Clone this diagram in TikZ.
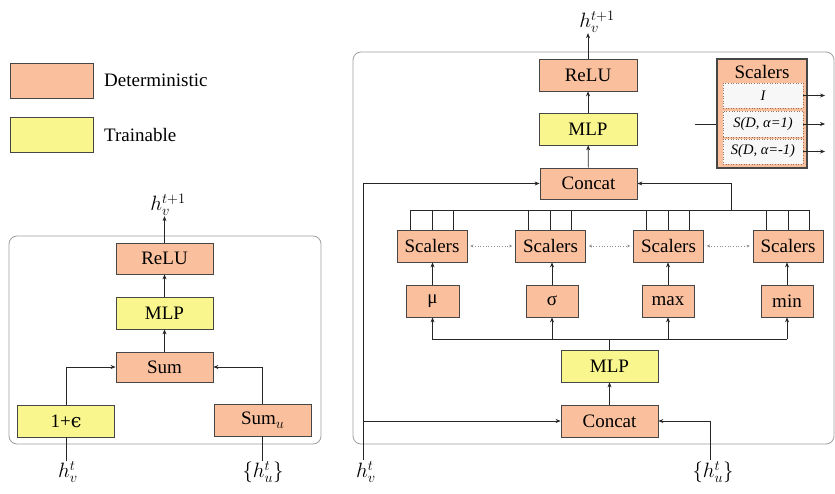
\documentclass[tikz,border=0pt]{standalone}
\usepackage{fontspec}
\setmainfont{Liberation Serif}
\newfontfamily\dvs{DejaVu Serif}
\usetikzlibrary{arrows.meta}
\definecolor{detc}{RGB}{250,192,158}
\definecolor{trnc}{RGB}{250,246,142}
\definecolor{boxb}{RGB}{70,70,70}
\definecolor{panelc}{RGB}{160,160,160}
\begin{document}
\begin{tikzpicture}[x=1pt,y=-1pt,
 box/.style={draw=boxb, line width=0.8pt, inner sep=0pt, font=\fontsize{19}{21}\selectfont},
 det/.style={box, fill=detc},
 trn/.style={box, fill=trnc},
 bw/.style={minimum width=97pt, minimum height=32pt},
 sw/.style={minimum width=70pt, minimum height=32pt},
 stw/.style={minimum width=52pt, minimum height=32pt},
 conn/.style={draw=black!85, line width=0.7pt},
 arr/.style={conn, -{Stealth[length=5pt,width=4pt]}},
 darr/.style={draw=black!45, line width=0.7pt, dotted, {Stealth[length=3pt,width=3pt]}-{Stealth[length=3pt,width=3pt]}, shorten <=3pt, shorten >=3pt},
 panel/.style={draw=panelc, line width=0.8pt, rounded corners=8pt},
 lbl/.style={font=\fontsize{22}{26}\selectfont, inner sep=0pt},
 legtxt/.style={anchor=west, inner sep=0pt, font=\fontsize{19}{21}\selectfont},
 inbox/.style={draw=detc!60!black, dotted, line width=0.6pt, fill=gray!6, minimum width=80pt, inner sep=0pt, font=\itshape\fontsize{14.5}{16}\selectfont},
]
\useasboundingbox (0,0) rectangle (835,494);

% legend
\node[det, minimum width=83pt, minimum height=35pt] (legd) at (51.5,80.5) {};
\node[legtxt] (legdt) at (104,80) {Deterministic};
\node[trn, minimum width=83pt, minimum height=35pt] (legt) at (51.5,135) {};
\node[legtxt] (legtt) at (104,135) {Trainable};

% ---------------- left panel
\draw[panel] (9,236) rectangle (321,444);
\node[det, bw, minimum height=31pt] (lrelu) at (164.5,258.5) {ReLU};
\node[trn, bw] (lmlp) at (164.5,313) {MLP};
\node[det, bw, minimum height=30pt] (lsum) at (164.5,367) {Sum};
\node[trn, bw] (leps) at (66,421) {1+{\dvs ϵ}};
\node[det, bw] (lsumu) at (262.5,420) {Sum\raisebox{-4pt}{\fontsize{15}{15}\selectfont$u$}};
\node[lbl] (lout) at (168,205) {$h_v^{t+1}$};
\node[lbl, anchor=north] (lhv) at (68,461) {$h_v^{t}$};
\node[lbl, anchor=north] (lhu) at (263,461) {$\{h_u^{t}\}$};
\draw[arr] (leps.north) |- (lsum.west);
\draw[arr] (lsumu.north) |- (lsum.east);
\draw[arr] (lsum) -- (lmlp);
\draw[arr] (lmlp) -- (lrelu);
\draw[arr] (lrelu.north) -- (lrelu.north |- lout.south);
\draw[conn] (lhv.north -| leps.south) -- (leps.south);
\draw[conn] (lhu.north -| lsumu.south) -- (lsumu.south);

% ---------------- right panel
\draw[panel] (353,52) rectangle (834,444);
\node[det, minimum width=98pt, minimum height=32pt] (rrelu) at (588,75) {ReLU};
\node[trn, minimum width=98pt, minimum height=32pt] (rmlp) at (588,129) {MLP};
\node[det, bw, minimum height=31pt] (rcat) at (588.5,183.5) {Concat};
\node[lbl] (rout) at (597,22) {$h_v^{t+1}$};

\node[det, sw] (sc1) at (432,246) {Scalers};
\node[det, sw] (sc2) at (550.5,246) {Scalers};
\node[det, sw] (sc3) at (668.5,246) {Scalers};
\node[det, sw] (sc4) at (788,246) {Scalers};

\node[det, stw, minimum width=53pt] (mu) at (432.5,301) {μ};
\node[det, stw] (sigma) at (552,301) {σ};
\node[det, stw] (max) at (668,301) {max};
\node[det, stw] (min) at (787,301) {min};

\node[trn, bw] (rmlp2) at (609.5,366) {MLP};
\node[det, bw] (rcat2) at (609.5,421) {Concat};

\coordinate (hvl) at (363,460);
\coordinate (hul) at (710,460);
\node[lbl, anchor=north] (rhv) at (366,461) {$h_v^{t}$};
\node[lbl, anchor=north] (rhu) at (713,461) {$\{h_u^{t}\}$};

\draw[arr] (rrelu.north) -- (rrelu.north |- rout.south);
\draw[arr] (rmlp) -- (rrelu);
\draw[arr] (rcat) -- (rmlp);
\draw[arr] (hvl) |- (rcat.west);
\draw[arr] (hvl |- rcat2.west) -- (rcat2.west);
\draw[arr] (hul) |- (rcat2.east);
\draw[arr] (rcat2) -- (rmlp2);

% bottom bus
\coordinate (bbl) at (432,339);
\coordinate (bbr) at (787,339);
\draw[conn] (bbl) -- (bbr);
\draw[conn] (rmlp2.north) -- (rmlp2.north |- bbl);
\draw[arr] (mu.south |- bbl) -- (mu.south);
\draw[arr] (sigma.south |- bbl) -- (sigma.south);
\draw[arr] (max.south |- bbl) -- (max.south);
\draw[arr] (min.south |- bbl) -- (min.south);
\draw[arr] (mu) -- (mu |- sc1.south);
\draw[arr] (sigma) -- (sigma |- sc2.south);
\draw[arr] (max) -- (max |- sc3.south);
\draw[arr] (min) -- (min |- sc4.south);

% dotted links between scalers
\draw[darr] (sc1.east) -- (sc2.west);
\draw[darr] (sc2.east) -- (sc3.west);
\draw[darr] (sc3.east) -- (sc4.west);

% top bus
\coordinate (tbl) at (410,210);
\coordinate (tbr) at (809,210);
\coordinate (tbj) at (731,210);
\draw[conn] (tbl) -- (tbr);
\foreach \s in {sc1,sc2,sc3,sc4}{
  \draw[conn] ([xshift=-22pt]\s.north) -- ([xshift=-22pt]\s.north |- tbl);
  \draw[conn] (\s.north) -- (\s.north |- tbl);
  \draw[conn] ([xshift=21pt]\s.north) -- ([xshift=21pt]\s.north |- tbl);
}
\draw[arr] (tbj) |- (rcat.east);

% scalers legend
\node[det, line width=1.1pt, minimum width=90pt, minimum height=109pt] (sclg) at (762,113.5) {};
\node[inner sep=0pt, font=\fontsize{19}{21}\selectfont] (sclt) at (762,72) {Scalers};
\node[inbox, minimum height=25pt] (si1) at (763,95.5) {I};
\node[inbox, minimum height=26pt] (si2) at (763,124) {S(D, α=1)};
\node[inbox, minimum height=25pt] (si3) at (763,151.5) {S(D, α=-1)};
\coordinate (sin) at (695,124);
\coordinate (so1) at (825,95.5);
\coordinate (so2) at (825,124);
\coordinate (so3) at (825,151.5);
\draw[conn] (sin) -- (sclg.west |- sin);
\draw[arr] (si1.east) -- (so1);
\draw[arr] (si2.east) -- (so2);
\draw[arr] (si3.east) -- (so3);
\end{tikzpicture}
\end{document}
